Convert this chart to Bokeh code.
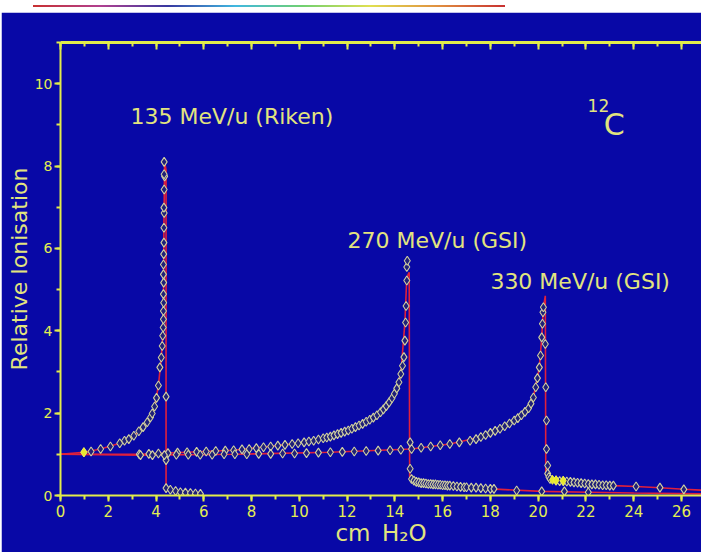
from bokeh.plotting import figure
from bokeh.models import ColumnDataSource, LinearAxis, SingleIntervalTicker, Label, Range1d, Div, Spacer
from bokeh.layouts import column, row
from bokeh.embed import file_html
from bokeh.resources import INLINE

# ---------------- data ----------------
# 135 MeV/u (Riken) - measured points
c135_x = [0.98, 1.28, 1.68, 2.09, 2.48, 2.68, 2.86, 3.07, 3.28, 3.46, 3.63, 3.77, 3.84, 3.94,
          4.02, 4.10, 4.16, 4.22, 4.26, 4.28, 4.30, 4.31, 4.31, 4.32, 4.31, 4.32, 4.31, 4.31,
          4.32, 4.33, 4.33, 4.34, 4.33, 4.34, 4.36, 4.34, 4.34,
          4.42, 4.42, 4.42, 4.60, 4.82, 5.02, 5.23, 5.44, 5.65, 5.86]
c135_y = [1.05, 1.07, 1.13, 1.19, 1.27, 1.33, 1.37, 1.45, 1.56, 1.66, 1.78, 1.90, 1.99, 2.16,
          2.37, 2.67, 3.11, 3.35, 3.63, 3.88, 4.08, 4.28, 4.48, 4.68, 4.89, 5.17, 5.37, 5.61,
          5.86, 6.14, 6.50, 6.86, 6.99, 7.43, 7.75, 7.80, 8.10,
          2.40, 0.86, 0.18, 0.14, 0.11, 0.08, 0.07, 0.06, 0.05, 0.04]
# 135 MeV/u - red curve
r135_x = [0.0, 0.98, 1.68, 2.48, 3.07, 3.46, 3.77, 3.94, 4.10, 4.22, 4.28, 4.31, 4.33, 4.36,
          4.42, 4.42, 4.60, 5.02, 5.44, 5.86, 6.00]
r135_y = [1.0, 1.05, 1.13, 1.27, 1.45, 1.66, 1.90, 2.16, 2.67, 3.35, 3.88, 4.48, 6.50, 8.10,
          7.90, 0.18, 0.14, 0.08, 0.06, 0.04, 0.02]

# 270 MeV/u (GSI) - measured points
c270_x = [3.3, 3.7, 4.1, 4.5, 4.9, 5.3, 5.7, 6.1, 6.5, 6.9, 7.25, 7.6, 7.9, 8.2, 8.5, 8.8,
          9.1, 9.4, 9.7, 9.95, 10.2, 10.4, 10.6, 10.8, 11.0, 11.15, 11.3, 11.45, 11.6, 11.75,
          11.9, 12.05, 12.2, 12.35, 12.5, 12.65, 12.8, 12.95, 13.1, 13.25, 13.4, 13.52, 13.64,
          13.76, 13.88, 13.98, 14.08, 14.17, 14.25, 14.32, 14.38, 14.42, 14.45, 14.47, 14.5,
          14.5, 14.52,
          14.64, 14.64, 14.70, 14.8, 14.9, 15.0, 15.1, 15.2, 15.3, 15.4, 15.5, 15.6, 15.7,
          15.8, 15.9, 16.0, 16.1, 16.2, 16.3, 16.45, 16.6, 16.75, 16.9, 17.0, 17.2, 17.4,
          17.6, 17.8, 18.0, 18.15, 19.1, 20.15, 21.1, 22.1]
c270_y = [1.0, 1.01, 1.02, 1.03, 1.04, 1.05, 1.06, 1.07, 1.08, 1.09, 1.10, 1.12, 1.13, 1.15,
          1.17, 1.19, 1.21, 1.23, 1.25, 1.27, 1.29, 1.31, 1.33, 1.36, 1.39, 1.41, 1.43, 1.46,
          1.49, 1.52, 1.55, 1.58, 1.62, 1.66, 1.70, 1.74, 1.79, 1.84, 1.89, 1.95, 2.02, 2.09,
          2.17, 2.26, 2.36, 2.47, 2.60, 2.75, 2.95, 3.15, 3.36, 3.76, 4.20, 4.60, 5.22, 5.55,
          5.70,
          1.29, 0.65, 0.40, 0.36, 0.33, 0.32, 0.30, 0.30, 0.29, 0.28, 0.28, 0.27, 0.27, 0.26,
          0.26, 0.25, 0.25, 0.24, 0.24, 0.23, 0.22, 0.21, 0.20, 0.20, 0.19, 0.19, 0.18, 0.17,
          0.16, 0.16, 0.12, 0.10, 0.10, 0.08]
# 270 MeV/u - red curve
r270_x = [0.0, 3.3, 7.25, 9.95, 10.8, 11.75, 12.5, 13.1, 13.64, 13.98, 14.25, 14.42, 14.5,
          14.6, 14.62, 14.7, 15.1, 16.0, 17.0, 18.0, 20.15, 22.1, 24.0, 26.84]
r270_y = [1.0, 1.0, 1.10, 1.27, 1.36, 1.52, 1.70, 1.89, 2.17, 2.47, 2.95, 4.20, 5.30,
          5.42, 0.45, 0.38, 0.30, 0.25, 0.20, 0.16, 0.10, 0.08, 0.06, 0.04]

# 330 MeV/u (GSI) - measured points
c330_x = [3.35, 3.85, 4.35, 4.85, 5.35, 5.85, 6.35, 6.85, 7.3, 7.8, 8.3, 8.8, 9.3, 9.8, 10.3,
          10.8, 11.3, 11.8, 12.3, 12.8, 13.3, 13.8, 14.25, 14.7, 15.1, 15.5, 15.9, 16.3, 16.7,
          17.15, 17.4, 17.6, 17.8, 18.0, 18.2, 18.4, 18.6, 18.8, 19.0, 19.15, 19.3, 19.45,
          19.6, 19.7, 19.8, 19.9, 19.97, 20.05, 20.1, 20.15, 20.18, 20.2, 20.22,
          20.3, 20.32, 20.35, 20.35, 20.4, 20.4, 20.45, 20.5, 20.75, 20.9, 21.05, 21.2, 21.35,
          21.5, 21.65, 21.8, 21.95, 22.1, 22.25, 22.4, 22.55, 22.7, 22.85, 23.0, 23.15, 24.1,
          25.1, 26.1]
c330_y = [0.98, 0.98, 0.98, 0.99, 0.99, 0.99, 0.99, 1.0, 1.0, 1.0, 1.01, 1.01, 1.02, 1.02,
          1.03, 1.04, 1.05, 1.06, 1.07, 1.08, 1.09, 1.10, 1.11, 1.13, 1.16, 1.19, 1.22, 1.25,
          1.29, 1.33, 1.37, 1.42, 1.47, 1.52, 1.57, 1.62, 1.68, 1.75, 1.82, 1.88, 1.95, 2.03,
          2.12, 2.23, 2.38, 2.63, 2.85, 3.11, 3.40, 3.84, 4.17, 4.45, 4.57,
          3.68, 2.63, 1.82, 1.13, 0.73, 0.53, 0.45, 0.40, 0.36, 0.35, 0.35, 0.34, 0.33, 0.32,
          0.31, 0.30, 0.29, 0.28, 0.27, 0.27, 0.26, 0.25, 0.25, 0.24, 0.24, 0.22, 0.19, 0.15]
# highlighted (filled) points
hl_x = [0.98, 20.6, 20.75, 21.05]
hl_y = [1.05, 0.38, 0.37, 0.36]
# 330 MeV/u - red curve
r330_x = [0.0, 3.35, 7.3, 11.3, 14.7, 16.3, 17.6, 18.4, 19.0, 19.45, 19.8, 20.05, 20.15,
          20.22, 20.3, 20.32, 20.45, 20.6, 21.5, 23.15, 24.1, 25.1, 26.1, 26.84]
r330_y = [1.0, 0.98, 1.0, 1.05, 1.13, 1.25, 1.42, 1.62, 1.82, 2.03, 2.38, 3.11, 3.84,
          4.57, 4.85, 0.50, 0.45, 0.38, 0.32, 0.24, 0.22, 0.19, 0.15, 0.13]

x_label = "cm\u2002H\u2082O"
y_label = "Relative Ionisation"

# ---------------- styling ----------------
BLUE = "#0808a6"
AXIS = "#e2ec4a"
TICKTXT = "#e4ee52"
TXT = "#e2e47e"
RED = "#e0203c"
FONT = "DejaVu Sans"

p = figure(width=700, height=540, output_backend="svg", toolbar_location=None,
           x_range=Range1d(0, 26.84), y_range=Range1d(0, 11),
           min_border_left=59, min_border_right=0, min_border_top=30, min_border_bottom=57,
           background_fill_color=BLUE, border_fill_color=BLUE, outline_line_color=None)
p.grid.grid_line_color = None

xa = p.xaxis[0]
xa.ticker = SingleIntervalTicker(interval=2, num_minor_ticks=2)
ya = p.yaxis[0]
ya.ticker = SingleIntervalTicker(interval=2, num_minor_ticks=2)
for ax in (xa, ya):
    ax.axis_line_color = AXIS
    ax.axis_line_width = 2
    ax.major_tick_line_color = AXIS
    ax.minor_tick_line_color = AXIS
    ax.major_tick_line_width = 2
    ax.minor_tick_line_width = 2
    ax.major_tick_in = 0
    ax.minor_tick_in = 0
    ax.major_tick_out = 6
    ax.minor_tick_out = 4
    ax.major_label_text_color = TICKTXT
    ax.major_label_text_font = FONT
    ax.axis_label_text_color = TXT
    ax.axis_label_text_font = FONT
    ax.axis_label_text_font_style = "normal"
    ax.axis_label_standoff = 0
xa.major_label_text_font_size = "15px"
xa.major_label_standoff = 3
xa.axis_label = x_label
xa.axis_label_text_font_size = "23px"
ya.major_label_text_font_size = "14px"
ya.major_label_standoff = 2
ya.axis_label = y_label
ya.axis_label_text_font_size = "22px"

top = LinearAxis(ticker=SingleIntervalTicker(interval=2, num_minor_ticks=2),
                 axis_line_color=AXIS, axis_line_width=3,
                 major_tick_line_color=AXIS, minor_tick_line_color=AXIS,
                 major_tick_line_width=2, minor_tick_line_width=2,
                 major_tick_in=7, major_tick_out=0, minor_tick_in=4, minor_tick_out=0,
                 major_label_text_color=None, major_label_standoff=0)
p.add_layout(top, "above")

# red model curves
for rx, ry in ((r135_x, r135_y), (r270_x, r270_y), (r330_x, r330_y)):
    p.line(rx, ry, line_color=RED, line_width=1.6)

# measured points
for cx, cy in ((c135_x, c135_y), (c270_x, c270_y), (c330_x, c330_y)):
    src = ColumnDataSource(dict(x=cx, y=cy))
    p.scatter("x", "y", source=src, marker="diamond", size=9,
              line_color="#d0d0a0", line_width=1.1, fill_color="#202078")
p.scatter(hl_x, hl_y, marker="diamond", size=9, line_color="#f0f040", fill_color="#e8e830")

# annotations
p.add_layout(Label(x=2.93, y=9.21, text="135 MeV/u (Riken)", text_font=FONT,
                   text_font_size="22px", text_color=TXT, text_baseline="middle"))
p.add_layout(Label(x=12.02, y=6.18, text="270 MeV/u (GSI)", text_font=FONT,
                   text_font_size="22px", text_color=TXT, text_baseline="middle"))
p.add_layout(Label(x=18.0, y=5.2, text="330 MeV/u (GSI)", text_font=FONT,
                   text_font_size="22px", text_color=TXT, text_baseline="middle"))
p.add_layout(Label(x=22.07, y=9.64, text="12", text_font=FONT,
                   text_font_size="17px", text_color=TXT, text_baseline="top"))
p.add_layout(Label(x=22.75, y=9.01, text="C", text_font=FONT,
                   text_font_size="30px", text_color=TXT, text_baseline="alphabetic"))

# white strip with the coloured rule above the chart
strip = Div(width=701, height=12, margin=0,
            text='<div style="position:relative;width:701px;height:12px;background:#ffffff;">'
                 '<div style="position:absolute;left:33px;top:5px;width:472px;height:2px;'
                 'background:linear-gradient(to right,#c83030,#b04090,#3838a0,#40b8e0,'
                 '#70d070,#e0e050,#e09040,#c83030);"></div></div>')
layout = column(strip, row(Spacer(width=1, height=540, margin=0), p))

open("out.html", "w").write(file_html(layout, INLINE))
